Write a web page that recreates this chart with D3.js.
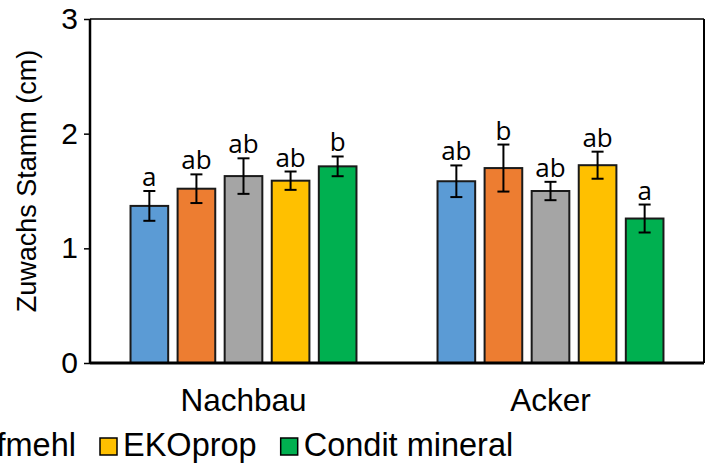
<!DOCTYPE html>
<html><head><meta charset="utf-8">
<script src="https://cdn.jsdelivr.net/npm/d3@7"></script>
<style>body{margin:0;background:#fff}svg{display:block}</style>
</head><body>
<script>
const categories = ["Nachbau", "Acker"];
const seriesNames = ["Kontrolle", "Kompost", "Hufmehl", "EKOprop", "Condit mineral"];
const seriesColors = ["#5b9bd5", "#ed7d31", "#a5a5a5", "#ffc000", "#00b050"];
const means = [
  [1.37, 1.52, 1.63, 1.59, 1.715],
  [1.585, 1.70, 1.50, 1.725, 1.26]
];
const errors = [
  [0.13, 0.125, 0.155, 0.08, 0.086],
  [0.138, 0.205, 0.08, 0.118, 0.122]
];
const letters = [
  ["a", "ab", "ab", "ab", "b"],
  ["ab", "b", "ab", "ab", "a"]
];
const yTicks = [0, 1, 2, 3];
const yTitle = "Zuwachs Stamm (cm)";

const W = 711, H = 463;
const m = {left: 90, right: 7, top: 19, bottom: 100};
const FONT = "'Liberation Sans', Arial, sans-serif";
const svg = d3.select("body").append("svg").attr("width", W).attr("height", H);

const x0 = d3.scaleBand().domain(categories).range([m.left, W - m.right]).paddingInner(0.264).paddingOuter(0.132);
const x1 = d3.scaleBand().domain(d3.range(seriesNames.length)).range([0, x0.bandwidth()]).paddingInner(0.2).paddingOuter(0);
const y = d3.scaleLinear().domain([0, 3]).range([H - m.bottom, m.top]);

// frame top/right
svg.append("line").attr("x1", m.left).attr("x2", W - m.right).attr("y1", y(3)).attr("y2", y(3)).attr("stroke", "#000").attr("stroke-width", 1.5);
svg.append("line").attr("x1", W - m.right).attr("x2", W - m.right).attr("y1", y(3)).attr("y2", y(0)).attr("stroke", "#000").attr("stroke-width", 2);

const groups = svg.selectAll("g.grp").data(categories).join("g").attr("class", "grp")
  .attr("transform", d => `translate(${x0(d)},0)`);

groups.each(function(cat, ci) {
  const g = d3.select(this);
  const data = means[ci].map((v, i) => ({i, v, e: errors[ci][i], l: letters[ci][i]}));
  g.selectAll("rect").data(data).join("rect")
    .attr("x", d => x1(d.i)).attr("width", x1.bandwidth())
    .attr("y", d => y(d.v)).attr("height", d => y(0) - y(d.v))
    .attr("fill", d => seriesColors[d.i]).attr("stroke", "#1a1a1a").attr("stroke-width", 2);
  const cx = d => x1(d.i) + x1.bandwidth() / 2;
  g.selectAll("line.eb").data(data).join("line").attr("class", "eb")
    .attr("x1", cx).attr("x2", cx).attr("y1", d => y(d.v + d.e)).attr("y2", d => y(d.v - d.e))
    .attr("stroke", "#000").attr("stroke-width", 2);
  ["t", "b"].forEach(s => {
    g.selectAll("line.cap" + s).data(data).join("line").attr("class", "cap" + s)
      .attr("x1", d => cx(d) - 6).attr("x2", d => cx(d) + 6)
      .attr("y1", d => y(s === "t" ? d.v + d.e : d.v - d.e)).attr("y2", d => y(s === "t" ? d.v + d.e : d.v - d.e))
      .attr("stroke", "#000").attr("stroke-width", 2);
  });
  g.selectAll("text.lt").data(data).join("text").attr("class", "lt")
    .attr("x", cx).attr("y", d => y(d.v + d.e) - 5)
    .attr("text-anchor", "middle").attr("font-family", "'Open Sans', sans-serif").attr("font-size", 26)
    .attr("fill", "#000").text(d => d.l);
});

// y axis
const yAxis = d3.axisLeft(y).tickValues(yTicks).tickFormat(d3.format("d")).tickSize(6).tickPadding(6);
const ya = svg.append("g").attr("transform", `translate(${m.left},0)`).call(yAxis);
ya.select(".domain").attr("stroke-width", 2.5).attr("d", `M0,${y(3)}V${y(0)}`);
ya.selectAll(".tick line").attr("stroke-width", 1.5);
ya.selectAll(".tick text").attr("font-family", FONT).attr("font-size", 30).attr("fill", "#000");

// x axis
const xAxis = d3.axisBottom(x0).tickSize(0).tickPadding(26);
const xa = svg.append("g").attr("transform", `translate(0,${y(0)})`).call(xAxis);
xa.select(".domain").attr("stroke-width", 3).attr("d", `M${m.left},0H${W - m.right}`);
xa.selectAll(".tick text").attr("font-family", FONT).attr("font-size", 31.5).attr("fill", "#000").attr("dy", "0.71em");

// y title
svg.append("text").attr("transform", `translate(36,${(y(0) + y(3)) / 2 - 10}) rotate(-90)`)
  .attr("text-anchor", "middle").attr("font-family", FONT).attr("font-size", 27)
  .attr("fill", "#000").text(yTitle);

// legend
const lg = svg.append("g");
let cursor = 0;
const positions = [];
seriesNames.forEach((n, i) => {
  const it = lg.append("g");
  it.append("rect").attr("x", cursor).attr("y", 438).attr("width", 17).attr("height", 17)
    .attr("fill", seriesColors[i]).attr("stroke", "#000").attr("stroke-width", 1.5);
  const t = it.append("text").attr("x", cursor + 23).attr("y", 456).attr("font-family", FONT)
    .attr("font-size", 32.5).attr("fill", "#000").text(n);
  positions.push(cursor);
  cursor += 23 + t.node().getComputedTextLength() + 24;
});
lg.attr("transform", `translate(${100 - positions[3]},0)`);
</script>
</body></html>
